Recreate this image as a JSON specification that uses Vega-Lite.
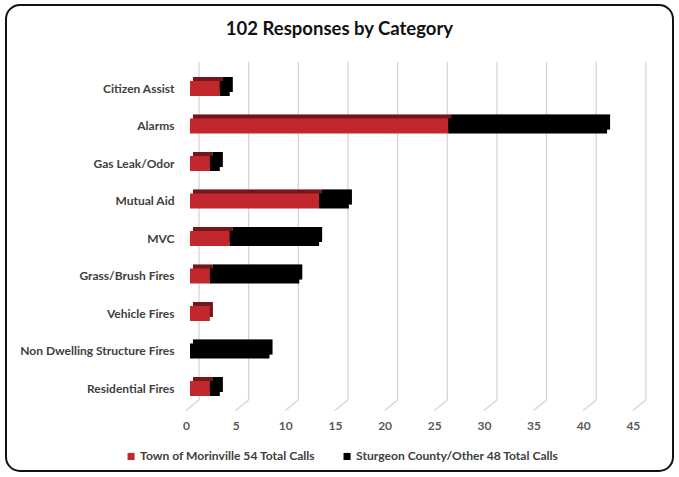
{
  "$schema": "https://vega.github.io/schema/vega-lite/v6.json",
  "width": 667,
  "height": 466,
  "autosize": {"type": "none"},
  "padding": {"left": 6, "top": 5, "right": 6, "bottom": 6},
  "background": "white",
  "title": {"text": "102 Responses by Category", "fontSize": 18.5, "font": "Lato", "fontWeight": "bold", "color": "#111111", "anchor": "middle", "offset": -33, "frame": "group"},
  "datasets": {
    "calls": [
      {"Category": "Citizen Assist", "Source": "Town of Morinville 54 Total Calls", "Calls": 3},
      {"Category": "Citizen Assist", "Source": "Sturgeon County/Other 48 Total Calls", "Calls": 1},
      {"Category": "Alarms", "Source": "Town of Morinville 54 Total Calls", "Calls": 26},
      {"Category": "Alarms", "Source": "Sturgeon County/Other 48 Total Calls", "Calls": 16},
      {"Category": "Gas Leak/Odor", "Source": "Town of Morinville 54 Total Calls", "Calls": 2},
      {"Category": "Gas Leak/Odor", "Source": "Sturgeon County/Other 48 Total Calls", "Calls": 1},
      {"Category": "Mutual Aid", "Source": "Town of Morinville 54 Total Calls", "Calls": 13},
      {"Category": "Mutual Aid", "Source": "Sturgeon County/Other 48 Total Calls", "Calls": 3},
      {"Category": "MVC", "Source": "Town of Morinville 54 Total Calls", "Calls": 4},
      {"Category": "MVC", "Source": "Sturgeon County/Other 48 Total Calls", "Calls": 9},
      {"Category": "Grass/Brush Fires", "Source": "Town of Morinville 54 Total Calls", "Calls": 2},
      {"Category": "Grass/Brush Fires", "Source": "Sturgeon County/Other 48 Total Calls", "Calls": 9},
      {"Category": "Vehicle Fires", "Source": "Town of Morinville 54 Total Calls", "Calls": 2},
      {"Category": "Vehicle Fires", "Source": "Sturgeon County/Other 48 Total Calls", "Calls": 0},
      {"Category": "Non Dwelling Structure Fires", "Source": "Town of Morinville 54 Total Calls", "Calls": 0},
      {"Category": "Non Dwelling Structure Fires", "Source": "Sturgeon County/Other 48 Total Calls", "Calls": 8},
      {"Category": "Residential Fires", "Source": "Town of Morinville 54 Total Calls", "Calls": 2},
      {"Category": "Residential Fires", "Source": "Sturgeon County/Other 48 Total Calls", "Calls": 1}
    ],
    "ticks": [
      {"v": 0}, {"v": 5}, {"v": 10}, {"v": 15}, {"v": 20},
      {"v": 25}, {"v": 30}, {"v": 35}, {"v": 40}, {"v": 45}
    ]
  },
  "layer": [
    {
      "data": {"name": "ticks"},
      "mark": {"type": "rule", "color": "#d9d0d0", "strokeWidth": 1.2, "xOffset": 9, "yOffset": -26.5, "y2Offset": 11.5},
      "encoding": {
        "x": {"field": "v", "type": "quantitative", "scale": {"domain": [-18.53, 48.64], "nice": false, "zero": false}},
        "y": {"datum": "Citizen Assist", "type": "nominal", "scale": {"domain": ["Citizen Assist", "Alarms", "Gas Leak/Odor", "Mutual Aid", "MVC", "Grass/Brush Fires", "Vehicle Fires", "Non Dwelling Structure Fires", "Residential Fires"], "range": [76, 391], "paddingInner": 0.6, "paddingOuter": 0}},
        "y2": {"datum": "Residential Fires"}
      }
    },
    {
      "data": {"name": "ticks"},
      "mark": {"type": "rule", "color": "#d9d0d0", "strokeWidth": 1.2, "xOffset": -4, "x2Offset": 9, "yOffset": 22, "y2Offset": 11.5},
      "encoding": {
        "x": {"field": "v", "type": "quantitative"},
        "x2": {"field": "v"},
        "y": {"datum": "Residential Fires", "type": "nominal"},
        "y2": {"datum": "Residential Fires"}
      }
    },
    {
      "data": {"name": "calls"},
      "mark": {"type": "bar", "xOffset": 3, "yOffset": -4},
      "encoding": {
        "x": {"field": "Calls", "type": "quantitative", "stack": "zero"},
        "y": {"field": "Category", "type": "nominal"},
        "color": {"field": "Source", "type": "nominal"},
        "order": {"field": "Source", "sort": "descending"}
      }
    },
    {
      "data": {"name": "calls"},
      "mark": {"type": "bar", "xOffset": 3, "yOffset": -4, "color": "#000000", "opacity": 0.4},
      "encoding": {
        "x": {"field": "Calls", "type": "quantitative", "stack": "zero"},
        "y": {"field": "Category", "type": "nominal"},
        "detail": {"field": "Source", "type": "nominal"},
        "order": {"field": "Source", "sort": "descending"}
      }
    },
    {
      "data": {"name": "calls"},
      "mark": {"type": "bar"},
      "encoding": {
        "x": {"field": "Calls", "type": "quantitative", "stack": "zero",
          "axis": {"title": null, "values": [0, 5, 10, 15, 20, 25, 30, 35, 40, 45], "grid": false, "domain": false, "ticks": false, "offset": -51, "labelPadding": 0, "labelOffset": -4, "labelFont": "Lato", "labelFontSize": 12, "labelFontWeight": "bold", "labelColor": "#595959", "labelBaseline": "top"}},
        "y": {"field": "Category", "type": "nominal",
          "axis": {"title": null, "domain": false, "ticks": false, "grid": false, "offset": -168, "labelPadding": 0, "labelFont": "Lato", "labelFontSize": 12, "labelFontWeight": "bold", "labelColor": "#404040"}},
        "color": {"field": "Source", "type": "nominal",
          "scale": {"domain": ["Town of Morinville 54 Total Calls", "Sturgeon County/Other 48 Total Calls"], "range": ["#c1272d", "#000000"]},
          "legend": {"orient": "none", "legendX": 119, "legendY": 445, "direction": "horizontal", "title": null, "symbolType": "square", "symbolSize": 50, "symbolStrokeWidth": 0, "symbolOpacity": 1, "labelFont": "Lato", "labelFontSize": 12.1, "labelFontWeight": "bold", "labelColor": "#404040", "labelLimit": 400, "columnPadding": 25, "labelOffset": 3}},
        "order": {"field": "Source", "sort": "descending"}
      }
    }
  ],
  "config": {
    "view": {"stroke": "#111111", "strokeWidth": 2, "cornerRadius": 14}
  }
}
